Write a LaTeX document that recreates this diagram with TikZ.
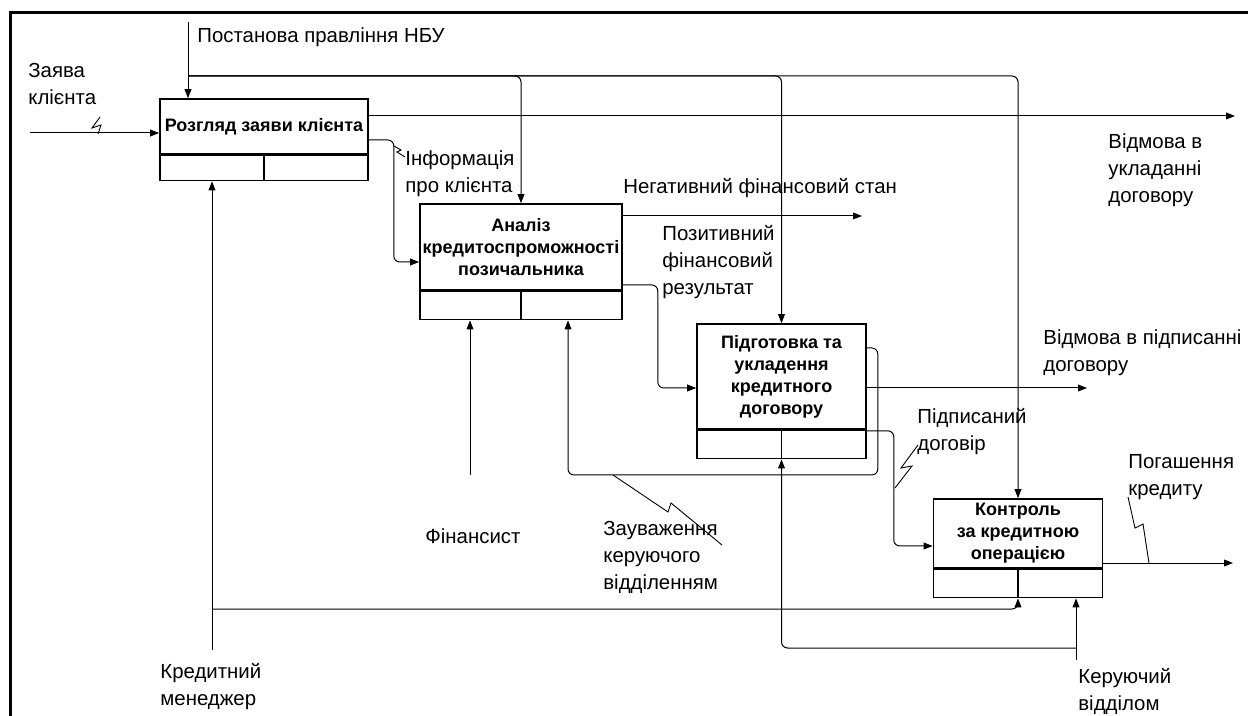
\documentclass[tikz,border=0pt]{standalone}
\usepackage{fontspec}
\setmainfont{Liberation Sans}
\usetikzlibrary{positioning,arrows.meta}
\newcommand{\boxfont}{\fontsize{9}{11}\selectfont\bfseries}
\newcommand{\lblfont}{\fontsize{10.2}{13.5}\selectfont}
\tikzset{
  func/.style={draw, thick, align=center, inner sep=1pt, font=\boxfont},
  strip/.style={draw, thick, inner sep=0pt},
  arr/.style={-{Triangle[length=4.5pt,width=3.4pt]}, line width=0.5pt, rounded corners=3pt},
  lbl/.style={align=left, inner sep=0pt, anchor=west, font=\lblfont},
  squig/.style={line width=0.45pt}
}
\begin{document}
\begin{tikzpicture}[x=0.5pt,y=-0.5pt]
\useasboundingbox (0,0) rectangle (1248,716);
\draw[line width=1.5pt] (10,716) -- (10,13) -- (1248,13);
% functions
\node[func, minimum width=104pt, minimum height=27.5pt] (r) at (264,126.5) {Розгляд заяви клієнта};
\node[strip, minimum width=104pt, minimum height=12.5pt, below=0pt of r] (r-m) {};
\node[func, minimum width=101pt, minimum height=43pt] (a) at (521,247) {Аналіз\\кредитоспроможності\\позичальника};
\node[strip, minimum width=101pt, minimum height=14pt, below=0pt of a] (a-m) {};
\node[func, minimum width=84.5pt, minimum height=52.5pt] (p) at (781.5,376.5) {Підготовка та\\укладення\\кредитного\\договору};
\node[strip, minimum width=84.5pt, minimum height=14pt, below=0pt of p] (p-m) {};
\node[func, minimum width=84.5pt, minimum height=34.5pt] (k) at (1018,533.5) {Контроль\\за кредитною\\операцією};
\node[strip, minimum width=84.5pt, minimum height=14pt, below=0pt of k] (k-m) {};
\draw[thick] (r-m.north) -- (r-m.south);
\draw[thick] (a-m.north) -- (a-m.south);
\draw[thick] (p-m.north) -- (p-m.south);
\draw[thick] (k-m.north) -- (k-m.south);
% labels
\node[lbl] (post) at (197,37) {Постанова правління НБУ};
\node[lbl] (zay) at (28,84) {Заява\\клієнта};
\node[lbl] (info) at (405,174) {Інформація\\про клієнта};
\node[lbl] (neg) at (623,188) {Негативний фінансовий стан};
\node[lbl] (pos) at (662,262) {Позитивний\\фінансовий\\результат};
\node[lbl] (vid1) at (1108,170) {Відмова в\\укладанні\\договору};
\node[lbl] (vid2) at (1043,353) {Відмова в підписанні\\договору};
\node[lbl] (pidp) at (917,432) {Підписаний\\договір};
\node[lbl] (pog) at (1128,477) {Погашення\\кредиту};
\node[lbl] (ker) at (1078,691) {Керуючий\\відділом};
\node[lbl] (kred) at (160,687) {Кредитний\\менеджер};
\node[lbl] (fin) at (425,536) {Фінансист};
\node[lbl] (zauv) at (603,557) {Зауваження\\керуючого\\відділенням};
% free ends
\coordinate (post-in) at (188,22);
\coordinate (post-br) at (188,76);
\coordinate (zay-in) at (30,133);
\coordinate (vid1-end) at (1235,116);
\coordinate (neg-end) at (862,216);
\coordinate (vid2-end) at (1087,388);
\coordinate (pog-end) at (1233,563);
\coordinate (fb) at (568,475);
\coordinate (fin-in) at (470,475);
\coordinate (kred-in) at (212,650);
\coordinate (kred-br) at (212,609);
\coordinate (ker-in) at (1076,660);
\coordinate (ker-br) at (1076,648);
% controls
\draw[arr] (post-in) -- (post-in |- r.north);
\draw[arr] (post-br) -| (a.north);
\draw[arr] (post-br) -| (p.north);
\draw[arr] (post-br) -| (k.north);
% inputs and outputs
\draw[arr] (zay-in) -- (zay-in -| r.west);
\draw[arr] (vid1-end -| r.east) -- (vid1-end);
\draw[arr] ([yshift=-6.75pt]r.east) -- ++(25,0) |- ([yshift=-7.5pt]a.west);
\draw[arr] (neg-end -| a.east) -- (neg-end);
\draw[arr] ([yshift=-19pt]a.east) -- ++(35,0) |- ([yshift=-5.75pt]p.west);
\draw[arr] (vid2-end -| p.east) -- (vid2-end);
\draw[arr] ([yshift=-0.5pt]p.south east) -- ++(27,0) |- ([yshift=-6.25pt]k.west);
\draw[arr] ([yshift=14.25pt]p.east) -- ++(11,0) |- (fb) -- (fb |- a-m.south);
\draw[arr] (pog-end -| k.east) -- (pog-end);
% mechanisms
\draw[arr] (fin-in) -- (fin-in |- a-m.south);
\draw[arr] (kred-in) -- (kred-in |- r-m.south);
\draw[arr] (kred-br) -| (k-m.south);
\draw[arr] (ker-in) -- (ker-in |- k-m.south);
\draw[arr] (ker-br) -| (p-m.south);
% squiggles
\draw[squig] (100,117) -- (92,128) -- (101,125) -- (98,134);
\draw[squig] (394,146) -- (401,150) -- (397,152) -- (405,157);
\draw[squig] (613,475) -- (668,512) -- (671,503) -- (722,545);
\draw[squig] (895,488) -- (912,466) -- (901,468) -- (918,445);
\draw[squig] (1128,497) -- (1135,528) -- (1143,524) -- (1149,563);
\end{tikzpicture}
\end{document}
